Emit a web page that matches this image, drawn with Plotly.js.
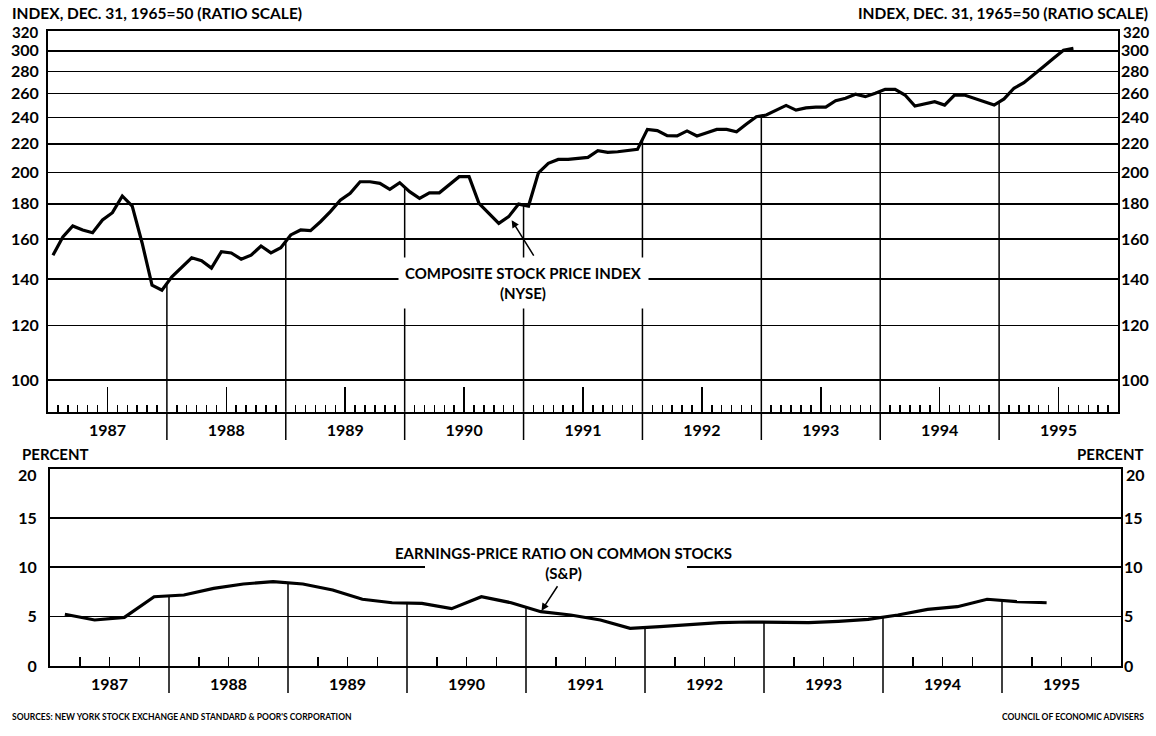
<!DOCTYPE html>
<html>
<head>
<meta charset="utf-8">
<script src="https://cdn.plot.ly/plotly-3.0.1.min.js"></script>
<style>
html,body{margin:0;padding:0;background:#fff;}
#chart{width:1156px;height:736px;}
</style>
</head>
<body>
<div id="chart"></div>
<script>
// ---------------- DATA ----------------
const years = [1987, 1988, 1989, 1990, 1991, 1992, 1993, 1994, 1995];
const yearLabels = ['1987', '1988', '1989', '1990', '1991', '1992', '1993', '1994', '1995'];

// Composite stock price index (NYSE), monthly, Jan 1987 - Aug 1995 (Dec. 31, 1965 = 50)
const stockIndex = [
  151.7, 161.2, 167.2, 165.0, 163.5, 170.6, 174.8, 184.8, 178.7, 158.0, 137.3, 135.0,
  141.1, 145.9, 150.4, 148.9, 145.3, 153.5, 152.8, 149.7, 151.7, 156.4, 152.9, 155.5,
  162.3, 165.0, 164.6, 169.6, 175.4, 182.3, 186.5, 193.8, 193.8, 192.8, 189.0, 193.2,
  187.5, 183.4, 186.8, 186.8, 192.1, 197.1, 197.1, 180.3, 174.4, 168.7, 172.5, 179.9,
  178.7, 199.7, 206.1, 208.8, 208.8, 209.5, 210.2, 214.9, 213.8, 214.2, 215.0, 215.9,
  230.8, 229.8, 226.0, 225.8, 229.6, 225.8, 228.2, 230.8, 230.8, 229.0, 235.0, 240.7,
  242.1, 246.1, 250.0, 246.1, 248.0, 248.5, 248.5, 253.9, 256.1, 259.5, 257.4, 260.3,
  263.8, 263.8, 258.8, 249.5, 251.5, 253.1, 250.3, 258.8, 258.8, 256.1, 253.1, 250.3,
  255.5, 264.7, 269.7, 276.7, 284.6, 292.6, 300.5, 302.5
];

// Earnings-price ratio on common stocks (S&P), quarterly, 1987 Q1 - 1995 Q2 (percent)
const epRatio = [
  5.24, 4.66, 4.93, 7.02,
  7.19, 7.87, 8.31, 8.54,
  8.31, 7.70, 6.76, 6.41,
  6.35, 5.81, 7.02, 6.41,
  5.50, 5.17, 4.66, 3.82,
  3.98, 4.22, 4.39, 4.46,
  4.46, 4.39, 4.53, 4.73,
  5.17, 5.74, 6.01, 6.76,
  6.52, 6.41
];

const indexTicks = [100, 120, 140, 160, 180, 200, 220, 240, 260, 280, 300, 320];
const percentTicks = [0, 5, 10, 15, 20];

const topTitle = 'INDEX, DEC. 31, 1965=50 (RATIO SCALE)';
const bottomTitle = 'PERCENT';
const stockLabel = 'COMPOSITE STOCK PRICE INDEX<br>(NYSE)';
const epLabel = 'EARNINGS-PRICE RATIO ON COMMON STOCKS<br>(S&amp;P)';
const sourceNote = 'SOURCES: NEW YORK STOCK EXCHANGE AND STANDARD &amp; POOR\'S CORPORATION';
const creditNote = 'COUNCIL OF ECONOMIC ADVISERS';

// ---------------- GEOMETRY / STYLE ----------------
const W = 1156, H = 736;
const px = x => x / W;
const py = y => 1 - y / H;
const FONT = 'Lato, "Open Sans", "DejaVu Sans", sans-serif';
const INK = '#000';

const firstYear = years[0];
const lastYear = years[years.length - 1] + 1;

const stockX = stockIndex.map((v, i) => firstYear + (i + 0.5) / 12);
const epX = epRatio.map((v, i) => firstYear + (i + 0.5) / 4);
const yearMid = years.map(y => y + 0.5);
const innerYears = years.slice(1);

const monthTicks = [];
const quarterTicks = [];
years.forEach(y => {
  for (let m = 1; m < 12; m++) if (m !== 6) monthTicks.push(y + m / 12);
  quarterTicks.push(y + 0.25, y + 0.75);
});

// top-most tick labels are placed by hand just under the frame (as in the original)
const lastIdx = indexTicks.length - 1;
const indexTickText = indexTicks.map((v, i) => i === lastIdx ? '' : String(v));
const pLast = percentTicks.length - 1;
const percentTickText = percentTicks.map((v, i) => i === pLast ? '' : String(v));

// drop lines at year boundaries, from the curve down to the axis
const dropTopX = [], dropTopY = [], dropBotX = [], dropBotY = [];
innerYears.forEach(y => {
  const i = (y - firstYear) * 12;
  if (i < stockIndex.length) {
    const v = Math.sqrt(stockIndex[i - 1] * stockIndex[i]);
    dropTopX.push(y, y, null); dropTopY.push(v, 80, null);
  }
  const q = (y - firstYear) * 4;
  if (q < epRatio.length) {
    const v = (epRatio[q - 1] + epRatio[q]) / 2;
    dropBotX.push(y, y, null); dropBotY.push(v, -2, null);
  }
});

const traces = [
  {type: 'scatter', mode: 'lines', x: dropTopX, y: dropTopY, xaxis: 'x', yaxis: 'y',
   line: {color: INK, width: 1.5}, hoverinfo: 'skip'},
  {type: 'scatter', mode: 'lines', x: stockX, y: stockIndex, xaxis: 'x', yaxis: 'y',
   line: {color: INK, width: 3.2}, name: 'Composite stock price index'},
  {type: 'scatter', mode: 'lines', x: dropBotX, y: dropBotY, xaxis: 'x2', yaxis: 'y2',
   line: {color: INK, width: 1.5}, hoverinfo: 'skip'},
  {type: 'scatter', mode: 'lines', x: epX, y: epRatio, xaxis: 'x2', yaxis: 'y2',
   line: {color: INK, width: 3.2}, name: 'Earnings-price ratio'},
  // invisible companions so the right-hand mirror scales are drawn
  {type: 'scatter', mode: 'lines', x: stockX, y: stockIndex, xaxis: 'x', yaxis: 'y3',
   line: {color: 'rgba(0,0,0,0)', width: 0}, hoverinfo: 'skip'},
  {type: 'scatter', mode: 'lines', x: epX, y: epRatio, xaxis: 'x2', yaxis: 'y4',
   line: {color: 'rgba(0,0,0,0)', width: 0}, hoverinfo: 'skip'}
];

const tickFont = {family: FONT, size: 16, color: INK, weight: 700};
const logRange = [Math.log10(90), Math.log10(320)];

const shapes = [];
innerYears.forEach(y => {
  shapes.push({type: 'line', xref: 'x', yref: 'paper', x0: y, x1: y, y0: py(411.7), y1: py(440),
               line: {color: INK, width: 1.5}});
  shapes.push({type: 'line', xref: 'x2', yref: 'paper', x0: y, x1: y, y0: py(666), y1: py(693),
               line: {color: INK, width: 1.5}});
});
// gap in the 10% grid line behind the label
shapes.push({type: 'rect', xref: 'paper', yref: 'paper', x0: px(425), x1: px(687), y0: py(572), y1: py(562),
             fillcolor: '#fff', line: {width: 0}, layer: 'above'});

const annFont = (s) => ({family: FONT, size: s, color: INK, weight: 700});
const annotations = [
  {text: topTitle, xref: 'paper', yref: 'paper', x: px(10), y: py(13), xanchor: 'left', yanchor: 'middle',
   showarrow: false, font: annFont(15.5)},
  {text: topTitle, xref: 'paper', yref: 'paper', x: px(1150), y: py(13), xanchor: 'right', yanchor: 'middle',
   showarrow: false, font: annFont(15.5)},
  {text: String(indexTicks[lastIdx]), xref: 'paper', yref: 'paper', x: px(40), y: py(32), xanchor: 'right',
   yanchor: 'middle', showarrow: false, font: annFont(15)},
  {text: String(indexTicks[lastIdx]), xref: 'paper', yref: 'paper', x: px(1121), y: py(32), xanchor: 'left',
   yanchor: 'middle', showarrow: false, font: annFont(15)},
  {text: bottomTitle, xref: 'paper', yref: 'paper', x: px(20), y: py(454), xanchor: 'left', yanchor: 'middle',
   showarrow: false, font: annFont(15)},
  {text: bottomTitle, xref: 'paper', yref: 'paper', x: px(1146), y: py(454), xanchor: 'right', yanchor: 'middle',
   showarrow: false, font: annFont(15)},
  {text: String(percentTicks[pLast]), xref: 'paper', yref: 'paper', x: px(39), y: py(474), xanchor: 'right',
   yanchor: 'middle', showarrow: false, font: annFont(16)},
  {text: String(percentTicks[pLast]), xref: 'paper', yref: 'paper', x: px(1124), y: py(474), xanchor: 'left',
   yanchor: 'middle', showarrow: false, font: annFont(16)},
  {text: stockLabel, xref: 'paper', yref: 'paper', x: px(523), y: py(283), xanchor: 'center', yanchor: 'middle',
   showarrow: false, font: annFont(15), bgcolor: '#fff', borderpad: 6},
  {text: '', xref: 'x', yref: 'y', x: 1990.9, y: Math.log10(170.5), ax: 23, ay: 37,
   showarrow: true, arrowhead: 2, arrowsize: 1, arrowwidth: 1.5, arrowcolor: INK},
  {text: epLabel, xref: 'paper', yref: 'paper', x: px(563), y: py(563), xanchor: 'center', yanchor: 'middle',
   showarrow: false, font: annFont(15)},
  {text: '', xref: 'x2', yref: 'y2', x: 1991.13, y: 5.6, ax: 17, ay: -26,
   showarrow: true, arrowhead: 2, arrowsize: 1, arrowwidth: 1.5, arrowcolor: INK},
  {text: sourceNote, xref: 'paper', yref: 'paper', x: px(10), y: py(717), xanchor: 'left', yanchor: 'middle',
   showarrow: false, font: annFont(8.5)},
  {text: creditNote, xref: 'paper', yref: 'paper', x: px(1146), y: py(717), xanchor: 'right', yanchor: 'middle',
   showarrow: false, font: annFont(8.5)}
];

const layout = {
  width: W, height: H, margin: {l: 0, r: 0, t: 0, b: 0},
  paper_bgcolor: '#fff', plot_bgcolor: '#fff', showlegend: false,
  font: {family: FONT, size: 16, color: INK},
  xaxis: {
    domain: [px(48), px(1118)], range: [firstYear, lastYear], anchor: 'y',
    showline: true, linecolor: INK, linewidth: 2, mirror: true, showgrid: false, zeroline: false,
    tickmode: 'array', tickvals: yearMid, ticktext: yearLabels,
    ticks: 'inside', ticklen: 25, tickwidth: 1.5, tickcolor: INK, tickfont: tickFont, ticklabelstandoff: 3,
    minor: {tickmode: 'array', tickvals: monthTicks, ticks: 'inside', ticklen: 7, tickwidth: 1.5,
            tickcolor: INK, showgrid: false}
  },
  yaxis: {
    domain: [py(411.7), py(31.4)], type: 'log', range: logRange, anchor: 'x',
    tickmode: 'array', tickvals: indexTicks, ticktext: indexTickText,
    showgrid: true, gridcolor: INK, gridwidth: 1.6, showline: true, linecolor: INK, linewidth: 2,
    mirror: true, ticks: '', zeroline: false, tickfont: tickFont, ticklabelstandoff: 4
  },
  yaxis3: {
    overlaying: 'y', side: 'right', anchor: 'x', type: 'log', range: logRange,
    tickmode: 'array', tickvals: indexTicks, ticktext: indexTickText,
    showgrid: false, showline: false, ticks: '', zeroline: false, tickfont: tickFont, ticklabelstandoff: 2
  },
  xaxis2: {
    domain: [px(50), px(1121)], range: [firstYear, lastYear], anchor: 'y2',
    showline: true, linecolor: INK, linewidth: 2, mirror: true, showgrid: false, zeroline: false,
    tickmode: 'array', tickvals: yearMid, ticktext: yearLabels,
    ticks: 'inside', ticklen: 9, tickwidth: 1.5, tickcolor: INK, tickfont: tickFont, ticklabelstandoff: 3,
    minor: {tickmode: 'array', tickvals: quarterTicks, ticks: 'inside', ticklen: 9, tickwidth: 1.5,
            tickcolor: INK, showgrid: false}
  },
  yaxis2: {
    domain: [py(666), py(468.6)], range: [0, 20], anchor: 'x2',
    tickmode: 'array', tickvals: percentTicks, ticktext: percentTickText,
    showgrid: true, gridcolor: INK, gridwidth: 1.6, showline: true, linecolor: INK, linewidth: 2,
    mirror: true, ticks: '', zeroline: false, tickfont: tickFont, ticklabelstandoff: 8
  },
  yaxis4: {
    overlaying: 'y2', side: 'right', anchor: 'x2', range: [0, 20],
    tickmode: 'array', tickvals: percentTicks, ticktext: percentTickText,
    showgrid: false, showline: false, ticks: '', zeroline: false, tickfont: tickFont, ticklabelstandoff: 2
  },
  shapes: shapes,
  annotations: annotations
};

Plotly.newPlot('chart', traces, layout, {staticPlot: true, displayModeBar: false});
</script>
</body>
</html>
